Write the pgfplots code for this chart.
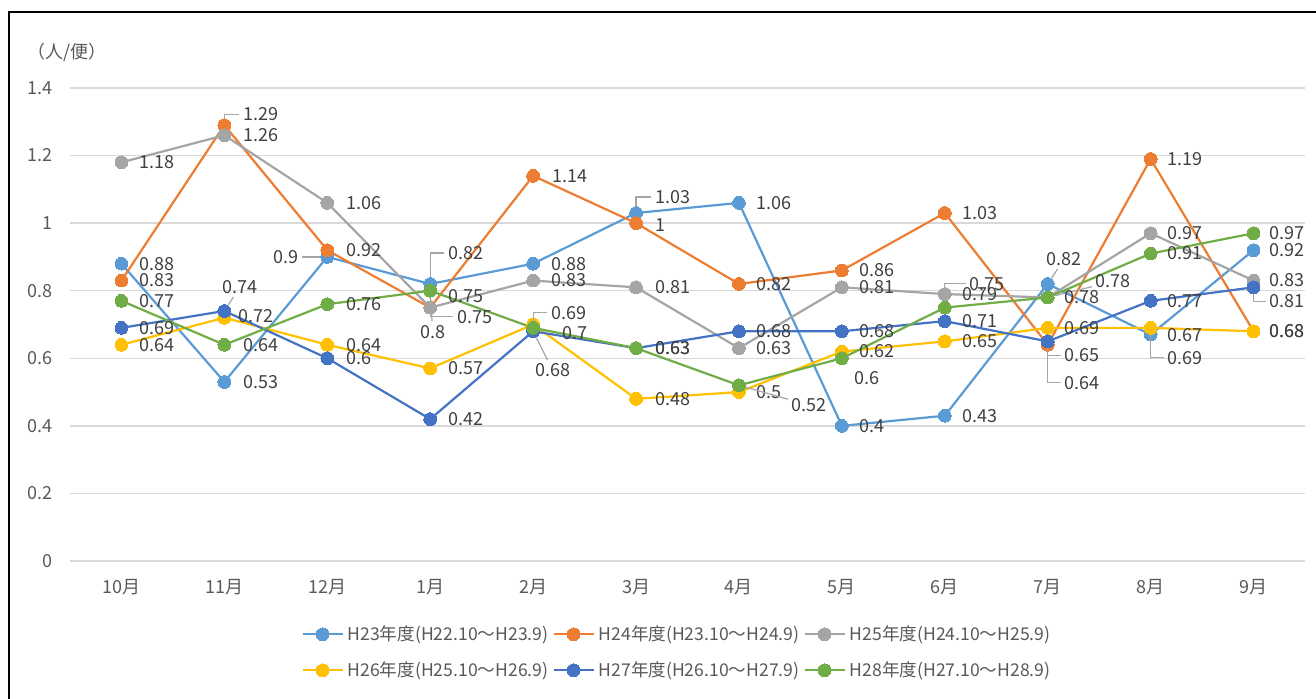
\documentclass[border=0pt]{standalone}
\usepackage{fontspec}
\setmainfont{Noto Sans CJK JP}
\usepackage{pgfplots}
\pgfplotsset{compat=1.18}

\definecolor{cA}{HTML}{5B9BD5}
\definecolor{cB}{HTML}{ED7D31}
\definecolor{cC}{HTML}{A5A5A5}
\definecolor{cD}{HTML}{FFC000}
\definecolor{cE}{HTML}{4472C4}
\definecolor{cF}{HTML}{70AD47}
\definecolor{gridc}{HTML}{D9D9D9}
\definecolor{tick}{HTML}{595959}
\definecolor{lbl}{HTML}{404040}
\definecolor{ldr}{HTML}{A6A6A6}

\pgfplotsset{
  leg/.style={#1, line width=1.1pt, mark=*, mark size=3.2pt,
    mark options={solid, fill=#1, draw=#1, line width=0pt}},
  ser/.style={leg=#1, forget plot,
    nodes near coords, point meta=explicit symbolic,
    visualization depends on={value \thisrow{dx} \as \labdx},
    visualization depends on={value \thisrow{dy} \as \labdy},
    visualization depends on={value \thisrow{le} \as \lable},
    visualization depends on={value \thisrow{ls} \as \labls},
    every node near coord/.append style={anchor=west, inner sep=0pt, text=lbl,
      font=\fontsize{9}{11}\selectfont,
      xshift=\labdx*0.5pt, yshift=\labdy*0.5pt,
      append after command={
        ([xshift=-2pt]\tikzlastnode.west) edge[draw=ldr,
          draw opacity=\lable, line width=0.6pt, shorten >=3.5pt,
          to path={-| (\tikztotarget)}]
        ([xshift={(0-(\labdx))*0.5pt}, yshift={(0-(\labdy))*0.5pt}]\tikzlastnode.west)
        (\tikzlastnode) edge[draw=ldr,
          draw opacity=\labls, line width=0.6pt, shorten <=2pt, shorten >=3.5pt]
        ([xshift={(0-(\labdx))*0.5pt}, yshift={(0-(\labdy))*0.5pt}]\tikzlastnode.west)}},
  },
}

\begin{document}
\begin{tikzpicture}[font=\fontsize{9}{11}\selectfont]
\begin{axis}[at={(35pt,-280.5pt)}, anchor=south west, scale only axis,
  width=617.5pt, height=236.5pt,
  xmin=-0.5, xmax=11.5, ymin=0, ymax=1.4,
  xtick={0,...,11},
  xticklabels={10月,11月,12月,1月,2月,3月,4月,5月,6月,7月,8月,9月},
  ytick={0,0.2,0.4,0.6,0.8,1,1.2,1.4},
  yticklabels={0,0.2,0.4,0.6,0.8,1,1.2,1.4},
  x tick label style={anchor=center, yshift=-13pt, inner sep=0pt, text=tick},
  y tick label style={anchor=east, xshift=-8.5pt, inner sep=0pt, text=tick},
  axis line style={draw=none}, tick style={draw=none},
  ymajorgrids, major grid style={draw=gridc, line width=0.7pt},
  clip=false,
  legend columns=3,
  legend style={at={(0.4923,-0.193)}, anchor=center, draw=none, fill=none,
    text=tick, font=\fontsize{8.8}{11}\selectfont, row sep=5pt,
    /tikz/every even column/.append style={column sep=0pt}},
  legend image code/.code={\draw[mark repeat=2, mark phase=2, #1]
    plot coordinates {(0pt,0pt) (10pt,0pt) (20pt,0pt)};},
]
% columns: month index, value, label offset (px), elbow / straight leader
\addplot[ser=cA] table[x=x, y=y, meta=y] {
x y dx dy le ls
0 0.88 18 0 0 0
1 0.53 19 0 0 0
2 0.9 -54 0 0 1
3 0.82 18 31 1 0
4 0.88 18 0 0 0
5 1.03 19 16 1 0
6 1.06 18 0 0 0
7 0.4 18 0 0 0
8 0.43 18 0 0 0
9 0.82 -1 25 0 1
10 0.67 17 0 0 0
11 0.92 16 0 0 0
};
\addplot[ser=cB] table[x=x, y=y, meta=y] {
x y dx dy le ls
0 0.83 18 0 0 0
1 1.29 19 11 1 0
2 0.92 19 0 0 0
3 0.75 18 12 0 0
4 1.14 19 0 0 0
5 1 19 -2 0 0
6 0.82 18 0 0 0
7 0.86 18 0 0 0
8 1.03 18 0 0 0
9 0.64 17 -38 1 0
10 1.19 17 0 0 0
11 0.68 16 0 0 0
};
\addplot[ser=cC] table[x=x, y=y, meta=y] {
x y dx dy le ls
0 1.18 18 0 0 0
1 1.26 19 0 0 0
2 1.06 19 0 0 0
3 0.75 27 -9 1 0
4 0.83 18 0 0 0
5 0.81 19 0 0 0
6 0.63 18 0 0 0
7 0.81 18 0 0 0
8 0.79 18 0 0 0
9 0.78 48 16 0 1
10 0.97 17 0 0 0
11 0.83 16 0 0 0
};
\addplot[ser=cD] table[x=x, y=y, meta=y] {
x y dx dy le ls
0 0.64 18 0 0 0
1 0.72 14 2 0 0
2 0.64 19 0 0 0
3 0.57 18 0 0 0
4 0.7 29 -9 0 0
5 0.48 19 0 0 0
6 0.5 18 0 0 0
7 0.62 18 0 0 0
8 0.65 18 0 0 0
9 0.69 17 0 0 0
10 0.69 17 -30 1 0
11 0.68 16 0 0 0
};
\addplot[ser=cE] table[x=x, y=y, meta=y] {
x y dx dy le ls
0 0.69 18 0 0 0
1 0.74 -2 24 0 1
2 0.6 19 0 0 0
3 0.42 18 0 0 0
4 0.68 2 -39 0 1
5 0.63 19 0 0 0
6 0.68 18 0 0 0
7 0.68 18 0 0 0
8 0.71 18 0 0 0
9 0.65 17 -14 1 0
10 0.77 17 0 0 0
11 0.81 16 -14 1 0
};
\addplot[ser=cF] table[x=x, y=y, meta=y] {
x y dx dy le ls
0 0.77 18 0 0 0
1 0.64 19 0 0 0
2 0.76 19 0 0 0
3 0.8 -10 -41 0 1
4 0.69 18 15 1 0
5 0.63 19 0 0 0
6 0.52 53 -20 0 1
7 0.6 13 -20 0 0
8 0.75 25 24 1 0
9 0.78 17 0 0 0
10 0.91 17 0 0 0
11 0.97 16 0 0 0
};
\addlegendimage{leg=cA}\addlegendentry{H23年度(H22.10～H23.9)}
\addlegendimage{leg=cB}\addlegendentry{H24年度(H23.10～H24.9)}
\addlegendimage{leg=cC}\addlegendentry{H25年度(H24.10～H25.9)}
\addlegendimage{leg=cD}\addlegendentry{H26年度(H25.10～H26.9)}
\addlegendimage{leg=cE}\addlegendentry{H27年度(H26.10～H27.9)}
\addlegendimage{leg=cF}\addlegendentry{H28年度(H27.10～H28.9)}
\end{axis}
\node[anchor=west, inner sep=0pt, text=tick] at (13.5pt,-26pt) {（人/便）};
\draw[line width=0.6pt] (4.5pt,-349.5pt) -- (4.5pt,-6pt) -- (658pt,-6pt);
\pgfresetboundingbox
\path[use as bounding box] (0pt,0pt) rectangle (658pt,-349.5pt);
\end{tikzpicture}
\end{document}
